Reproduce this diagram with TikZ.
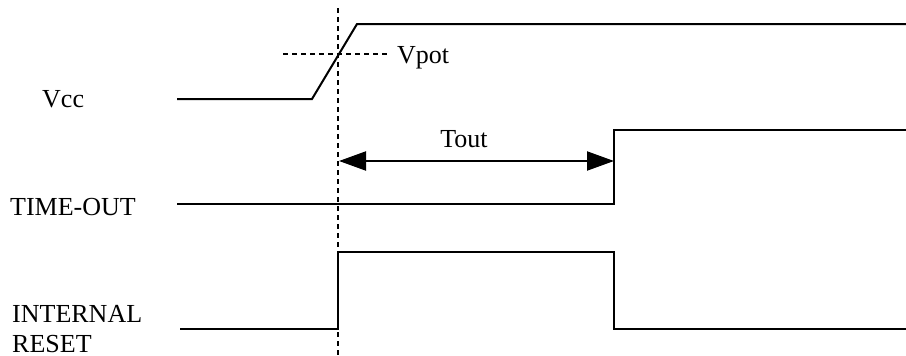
\documentclass[tikz,border=0pt]{standalone}
\usepackage{fontspec}
\setmainfont{Liberation Serif}
\usetikzlibrary{arrows.meta}
\begin{document}
\begin{tikzpicture}[x=1pt,y=-1pt,
  signal/.style={line width=2pt, line join=miter},
  guide/.style={line width=1.6pt, dash pattern=on 5pt off 4pt},
  lbl/.style={anchor=base west, inner sep=0pt, font=\fontsize{26}{30}\selectfont},
  dim/.style={line width=2pt, {Triangle[length=27pt,width=19pt]}-{Triangle[length=27pt,width=19pt]}}]
\useasboundingbox (0,0) rectangle (906,356);
% coordinates
\coordinate (v0) at (177,99);
\coordinate (v1) at (312,99);
\coordinate (v2) at (357,24);
\coordinate (v3) at (906,24);
\coordinate (t0) at (177,204);
\coordinate (t1) at (614,204);
\coordinate (t2) at (614,130);
\coordinate (t3) at (906,130);
\coordinate (r0) at (180,329);
\coordinate (r1) at (338,329);
\coordinate (r2) at (338,252);
\coordinate (r3) at (614,252);
\coordinate (r4) at (614,329);
\coordinate (r5) at (906,329);
\coordinate (d0) at (338,8);
\coordinate (d1) at (338,356);
\coordinate (h0) at (283,54);
\coordinate (h1) at (390,54);
\coordinate (a0) at (339,161);
\coordinate (a1) at (614,161);
% labels
\node[lbl] (vcc) at (42,107) {Vcc};
\node[lbl] (to) at (10,215) {TIME-OUT};
\node[lbl] (ir1) at (12,322) {INTERNAL};
\node[lbl, text depth=0pt] (ir2) at (12,352) {RESET};
\node[lbl] (vpot) at (397,63) {Vpot};
\node[lbl, anchor=base] (tout) at (464,147) {Tout};
% guides
\draw[guide] (d0) -- (d1);
\draw[guide] (h0) -- (h1);
% signals
\draw[signal] (v0) -- (v1) -- (v2) -- (v3);
\draw[signal] (t0) -- (t1) -- (t2) -- (t3);
\draw[signal] (r0) -- (r1) -- (r2) -- (r3) -- (r4) -- (r5);
% dimension
\draw[dim] (a0) -- (a1);
\end{tikzpicture}
\end{document}
